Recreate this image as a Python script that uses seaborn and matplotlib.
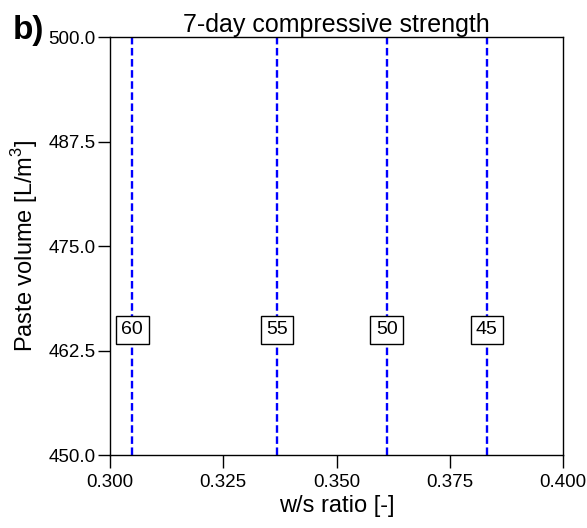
import numpy as np
import pandas as pd
import matplotlib
matplotlib.use("Agg")
import matplotlib.pyplot as plt
import seaborn as sns

# data
strength_levels = [60, 55, 50, 45]
ws_ratio_at_level = [0.3049, 0.3369, 0.3611, 0.3832]
paste_range = [450.0, 500.0]
label_paste = 465.0
x_ticks = [0.300, 0.325, 0.350, 0.375, 0.400]
y_ticks = [450.0, 462.5, 475.0, 487.5, 500.0]

sns.set_theme(style="ticks")
plt.rcParams['font.family'] = ['Liberation Sans', 'DejaVu Sans']
plt.rcParams['mathtext.fontset'] = 'custom'
plt.rcParams['mathtext.rm'] = 'Liberation Sans'
plt.rcParams['text.color'] = 'black'

rows = []
for lvl, x in zip(strength_levels, ws_ratio_at_level):
    for y in paste_range:
        rows.append({"level": lvl, "ws": x, "paste": y})
df = pd.DataFrame(rows)

fig = plt.figure(figsize=(5.87, 5.28), dpi=100)
ax = fig.add_axes([110/587, 1-455/528, (563-110)/587, (455-37)/528])

sns.lineplot(data=df, x="ws", y="paste", units="level", estimator=None, sort=False,
             color="#0000ff", linestyle=(0, (3.2, 1.5)), linewidth=1.7, ax=ax, legend=False)

for lvl, x in zip(strength_levels, ws_ratio_at_level):
    ax.text(x, label_paste, str(lvl), ha="center", va="center", fontsize=14, color="black",
            bbox=dict(boxstyle="square,pad=0.28", facecolor="white", edgecolor="black", linewidth=1.0),
            zorder=5)

ax.set_xlim(0.3, 0.4)
ax.set_ylim(450, 500)
ax.set_xticks(x_ticks)
ax.set_xticklabels([f"{v:.3f}" for v in x_ticks])
ax.set_yticks(y_ticks)
ax.set_yticklabels([f"{v:.1f}" for v in y_ticks])
ax.tick_params(axis="both", direction="out", length=9, width=1.0, labelsize=13.5, color="black", labelcolor="black")
ax.tick_params(axis="x", pad=4.5)
ax.tick_params(axis="y", pad=1.5)
for s in ax.spines.values():
    s.set_visible(True)
    s.set_color("black")
    s.set_linewidth(1.0)

ax.set_xlabel("w/s ratio [-]", fontsize=17, color="black", labelpad=3)
ax.set_ylabel("Paste volume [L/m$^3$]", fontsize=17, color="black", labelpad=6)
ax.set_title("7-day compressive strength", fontsize=18, color="black", pad=3)
fig.text(13/587, 1-30/528, "b)", fontsize=24, fontweight="bold", color="black", va="center", ha="left")

fig.savefig("out.png", dpi=100)
